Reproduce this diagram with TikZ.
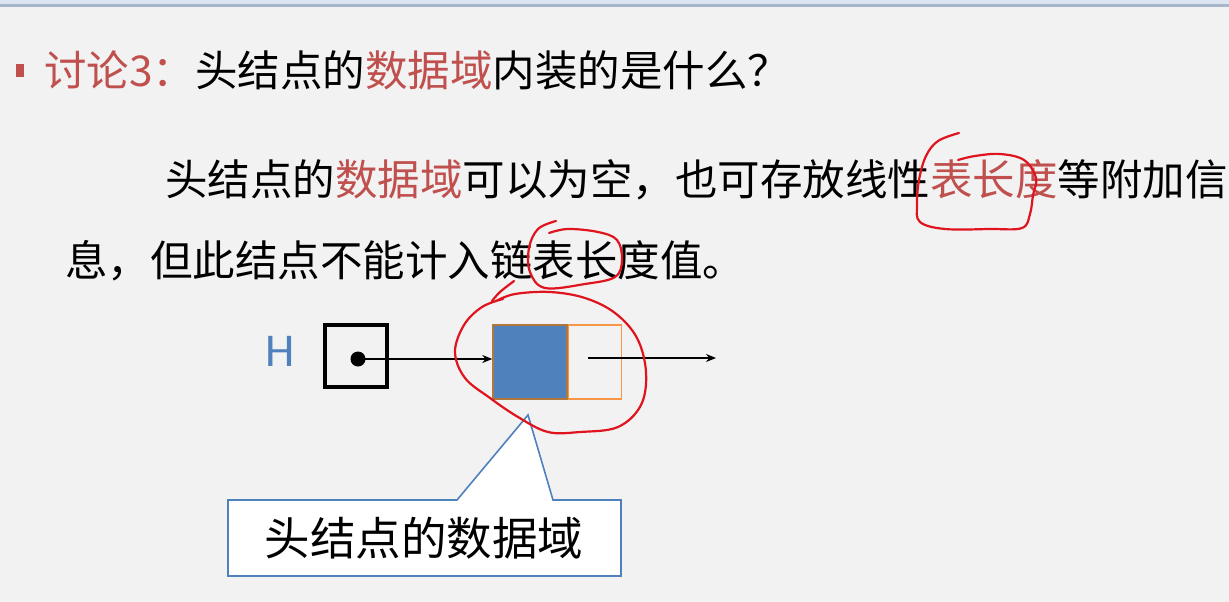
\documentclass[tikz,border=0pt]{standalone}
\usepackage{fontspec}
\newfontfamily\cjk{Noto Sans CJK SC}
\newfontfamily\lat{Carlito}
\usetikzlibrary{arrows.meta}
\definecolor{bg}{HTML}{F2F2F2}
\definecolor{accred}{HTML}{C0504D}
\definecolor{accblue}{HTML}{4F81BD}
\definecolor{accorange}{HTML}{F79646}
\definecolor{cellborder}{HTML}{B0783C}
\definecolor{topband}{HTML}{DCE6F2}
\definecolor{topline}{HTML}{A6B6C8}
\definecolor{pen}{HTML}{E0141E}
\newcommand{\hl}[1]{\textcolor{accred}{#1}}
\tikzset{
  txt/.style={inner sep=0pt, anchor=base west, font=\cjk\fontsize{42.5}{48}\selectfont, text=black},
  ptr/.style={line width=1.2pt, -{Stealth[length=10pt,width=8pt]}},
  ink/.style={draw=pen, line width=2.2pt, line cap=round, line join=round},
}
\begin{document}
\begin{tikzpicture}[x=1pt,y=-1pt]
\useasboundingbox (0,0) rectangle (1229,602);
\fill[bg] (0,0) rectangle (1229,602);
\fill[topband] (0,0) rectangle (1229,4);
\fill[topline] (0,4.5) rectangle (1229,7);
% title
\fill[accred] (16,64) rectangle (24,77);
\node[txt] (title) at (44,86) {\hl{讨论3：}头结点的\hl{数据域}内装的是什么？};
% body
\node[txt] (l1) at (165,195) {头结点的\hl{数据域}可以为空，也可存放线性\hl{表长度}等附加信};
\node[txt] (l2) at (65,276) {息，但此结点不能计入链表长度值。};
% diagram
\node[inner sep=0pt, anchor=base, font=\lat\fontsize{47}{50}\selectfont, text=accblue] (H) at (280,366) {H};
\node[draw=black, line width=3.5pt, minimum size=62pt, inner sep=0pt] (hp) at (356,356) {};
\coordinate (dot) at (358,359);
\fill[black] (dot) circle (7.5);
\node[draw=cellborder, fill=accblue, line width=1.5pt, minimum width=74pt, minimum height=74pt, inner sep=0pt] (data) at (530,362) {};
\node[draw=accorange, line width=1.5pt, minimum width=53pt, minimum height=74pt, inner sep=0pt, anchor=west] (next) at (data.east) {};
\coordinate (nstart) at (588,358);
\coordinate (nend) at (716,358);
\draw[ptr] (dot) -- (data.west |- dot);
\draw[ptr] (nstart) -- (nend);
% callout
\coordinate (tip) at (528,415);
\draw[accblue, fill=white, line width=1.6pt, line join=miter]
  (228,500) -- (457,500) -- (tip) -- (553,500) -- (621,500) -- (621,576) -- (228,576) -- cycle;
\node[inner sep=0pt, anchor=base, font=\cjk\fontsize{45.5}{50}\selectfont] (ctext) at (424,555) {头结点的数据域};
% hand-drawn ink
\draw[ink] plot[smooth, tension=0.6] coordinates {(959,133) (938,141) (926,156) (919,180) (917,205) (920,222) (945,229) (990,229) (1022,228) (1030,214) (1033,195) (1036,178) (1024,160) (1000,154) (975,156) (958,160)};
\draw[ink] plot[smooth, tension=0.6] coordinates {(556,221) (538,229) (529,248) (530,272) (545,288) (585,284) (615,277) (622,260) (617,240) (598,232) (568,229) (549,233)};
\draw[ink] plot[smooth, tension=0.6] coordinates {(514,281) (500,292) (492,301)};
\draw[ink] plot[smooth, tension=0.6] coordinates {(496,301) (515,294) (550,292) (585,298) (615,313) (637,338) (646,372) (641,405) (618,427) (580,432) (548,432) (518,417) (490,398) (465,378) (455,352) (464,325) (482,307) (503,299)};
\end{tikzpicture}
\end{document}
